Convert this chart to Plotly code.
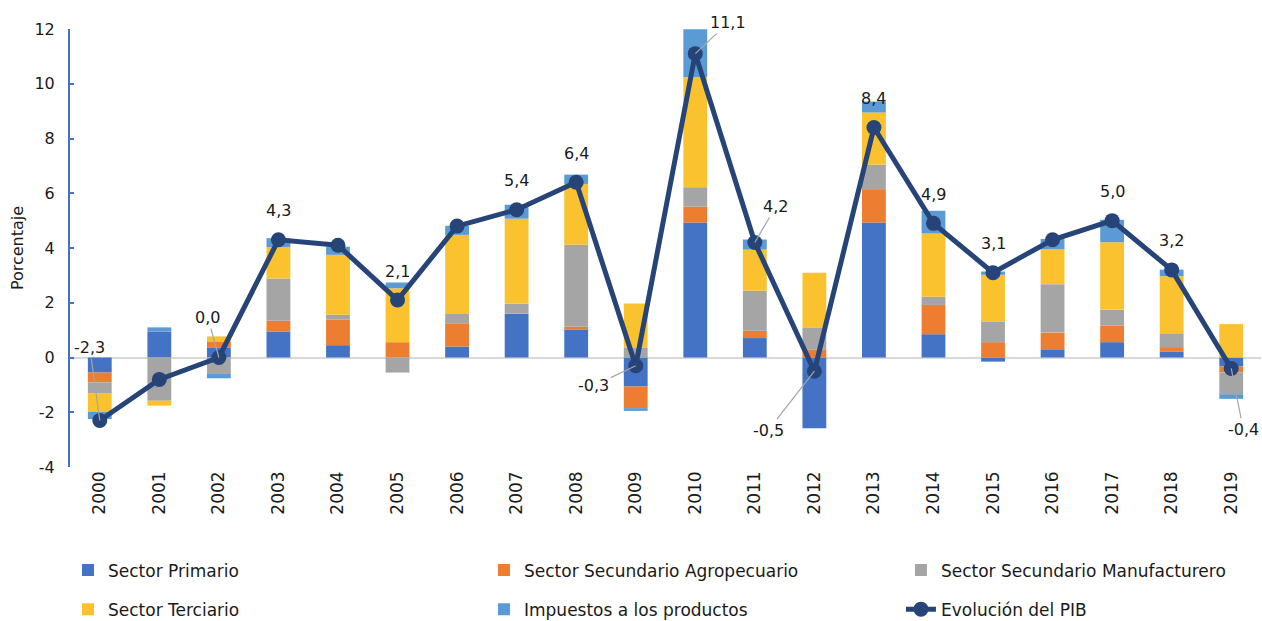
import plotly.graph_objects as go

years = list(range(2000, 2020))

primario = [-0.55, 0.95, 0.37, 0.95, 0.45, 0.0, 0.40, 1.60, 1.01, -1.06,
            4.93, 0.71, -2.58, 4.93, 0.85, -0.15, 0.30, 0.56, 0.22, -0.33]
agropecuario = [-0.36, 0.0, 0.22, 0.39, 0.93, 0.56, 0.85, 0.0, 0.11, -0.79,
                0.58, 0.27, 0.28, 1.22, 1.07, 0.56, 0.61, 0.61, 0.16, -0.21]
manufacturero = [-0.39, -1.58, -0.60, 1.55, 0.18, -0.55, 0.34, 0.37, 3.00, 0.37,
                 0.71, 1.46, 0.82, 0.89, 0.30, 0.76, 1.77, 0.57, 0.48, -0.80]
terciario = [-0.69, -0.18, 0.18, 1.14, 2.19, 1.97, 2.89, 3.10, 2.22, 1.60,
             4.02, 1.50, 2.00, 1.91, 2.31, 1.70, 1.28, 2.47, 2.11, 1.22]
impuestos = [-0.26, 0.15, -0.16, 0.33, 0.30, 0.21, 0.33, 0.51, 0.34, -0.10,
             1.75, 0.37, 0.0, 0.40, 0.83, 0.12, 0.37, 0.82, 0.24, -0.17]
pib = [-2.3, -0.8, 0.0, 4.3, 4.1, 2.1, 4.8, 5.4, 6.4, -0.3,
       11.1, 4.2, -0.5, 8.4, 4.9, 3.1, 4.3, 5.0, 3.2, -0.4]
yticks = [-4, -2, 0, 2, 4, 6, 8, 10, 12]

# label placement (pixel offsets of label from point; True = gray leader line)
label_place = {
    2000: (-10, -73, True), 2002: (-11, -40, True), 2003: (0, -29, False),
    2005: (0, -29, False), 2007: (0, -29, False), 2008: (0, -29, False),
    2009: (-42, 20, True), 2010: (33, -31, True), 2011: (21, -36, True),
    2012: (-46, 59, True), 2013: (0, -29, False), 2014: (0, -29, False),
    2015: (0, -29, False), 2017: (0, -29, False), 2018: (0, -29, False),
    2019: (12, 61, True),
}

FONT = "DejaVu Sans"
TXT = "#1a1a1a"
colors = ["#4472C4", "#ED7D31", "#A5A5A5", "#F9C22E", "#5B9BD5"]
names = ["Sector Primario", "Sector Secundario Agropecuario",
         "Sector Secundario Manufacturero", "Sector Terciario",
         "Impuestos a los productos"]
series = [primario, agropecuario, manufacturero, terciario, impuestos]
legends = ["legend", "legend2", "legend3", "legend", "legend2"]

fig = go.Figure()
for nm, vals, col, lg in zip(names, series, colors, legends):
    fig.add_trace(go.Bar(x=years, y=vals, name=nm, marker_color=col,
                         marker_line_width=0, legend=lg, legendgroup=nm))

fig.add_trace(go.Scatter(x=years, y=pib, name="Evolución del PIB", mode="lines+markers",
                         line=dict(color="#264478", width=5),
                         marker=dict(color="#264478", size=15),
                         legend="legend3", legendgroup="pib"))

annotations = []
for yr, v in zip(years, pib):
    if yr not in label_place:
        continue
    ax, ay, leader = label_place[yr]
    txt = f"{v:.1f}".replace(".", ",")
    if leader:
        annotations.append(dict(x=yr, y=v, text=txt, showarrow=True, arrowhead=0,
                                arrowwidth=1.2, arrowcolor="#A6A6A6", ax=ax, ay=ay,
                                standoff=0, font=dict(family=FONT, size=16, color=TXT)))
    else:
        annotations.append(dict(x=yr, y=v, text=txt, showarrow=False, yshift=-ay,
                                font=dict(family=FONT, size=16, color=TXT)))

leg_common = dict(orientation="v", font=dict(family=FONT, size=17, color=TXT),
                  bgcolor="rgba(0,0,0,0)", traceorder="grouped", tracegroupgap=14,
                  xanchor="left", yanchor="top")

fig.update_layout(
    width=1262, height=621,
    margin=dict(l=70, r=1, t=29, b=154, autoexpand=False),
    plot_bgcolor="white", paper_bgcolor="white",
    barmode="relative", bargap=0.6,
    font=dict(family=FONT, size=16, color=TXT),
    annotations=annotations,
    legend=dict(x=-0.0017, y=-0.1952, **leg_common),
    legend2=dict(x=0.3476, y=-0.1952, **leg_common),
    legend3=dict(x=0.6977, y=-0.1952, **leg_common),
    xaxis=dict(range=[years[0] - 0.5, years[-1] + 0.5], tickvals=years,
               ticktext=[str(y) for y in years], showgrid=False, showline=False,
               ticks="", zeroline=False, tickangle=-90,
               tickfont=dict(family=FONT, size=17, color=TXT)),
    yaxis=dict(range=[-4, 12], tickvals=yticks, ticktext=[str(t) for t in yticks],
               showgrid=False, showline=True, linecolor="#4472C4", linewidth=2,
               ticks="inside", ticklen=4, tickcolor="#4472C4", tickwidth=2,
               ticklabelstandoff=10,
               zeroline=True, zerolinecolor="#D9D9D9", zerolinewidth=2,
               tickfont=dict(family=FONT, size=16, color=TXT),
               title=dict(text="Porcentaje", font=dict(family=FONT, size=16, color=TXT),
                          standoff=7)),
)

# remove the browser's default page margin so the figure fills the window exactly
fig.write_html("out.html", config={"displayModeBar": False},
               post_script="document.body.style.margin='0';"
                           "document.body.style.overflow='hidden';")
